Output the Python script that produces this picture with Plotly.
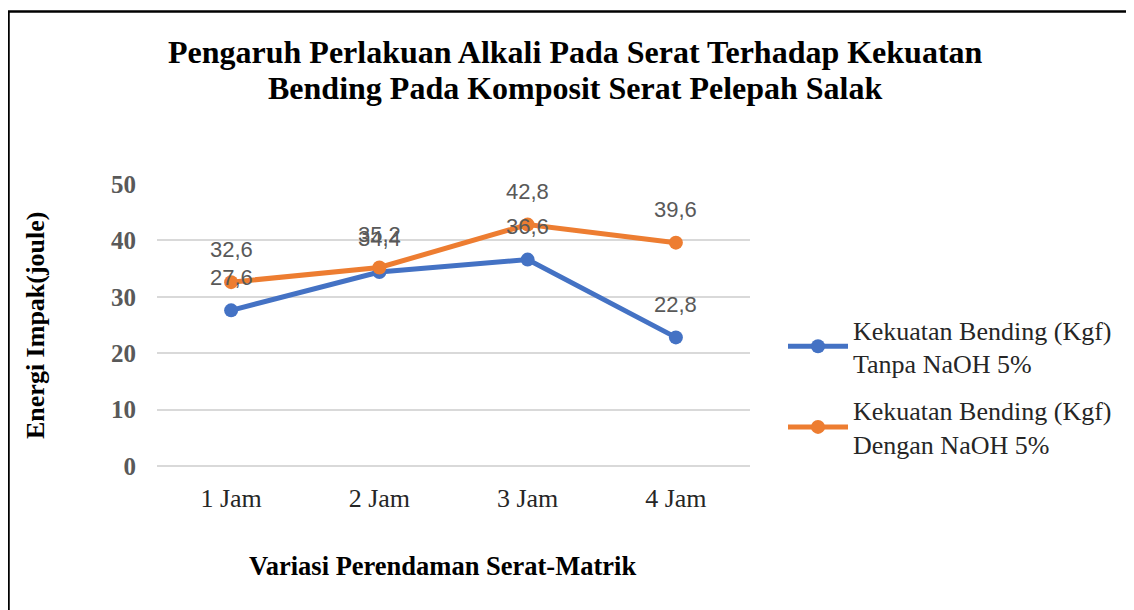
import plotly.graph_objects as go

# data
kategori = ["1 Jam", "2 Jam", "3 Jam", "4 Jam"]
tanpa_naoh = [27.6, 34.4, 36.6, 22.8]
dengan_naoh = [32.6, 35.2, 42.8, 39.6]
nama_tanpa = "Kekuatan Bending (Kgf)<br>Tanpa NaOH 5%"
nama_dengan = "Kekuatan Bending (Kgf)<br>Dengan NaOH 5%"
judul = ["Pengaruh Perlakuan Alkali Pada Serat Terhadap Kekuatan",
         "Bending Pada Komposit Serat Pelepah Salak"]
y_ticks = [0, 10, 20, 30, 40, 50]

BLUE = "#4472C4"
ORANGE = "#ED7D31"
SERIF = "Liberation Serif"

# the page puts the figure 8px in from the top-left corner
OFF = 8
W, H = 1134, 610
L = 157 - OFF
T = 184 - OFF
B = H - (466 - OFF)
R = W - (750 - OFF)
pw, ph = W - L - R, H - T - B


def px_x(x):  # page pixel -> paper x
    return (x - OFF - L) / pw


def px_y(y):  # page pixel -> paper y
    return (H - B - (y - OFF)) / ph


def fmt(v):
    return f"{v:.1f}".replace(".", ",")


fig = go.Figure()
for vals, nama, warna, grp in [(tanpa_naoh, nama_tanpa, BLUE, "a"),
                               (dengan_naoh, nama_dengan, ORANGE, "b")]:
    fig.add_trace(go.Scatter(
        x=kategori, y=vals, name=nama, mode="lines+markers", legendgroup=grp,
        line=dict(color=warna, width=5),
        marker=dict(color=warna, size=14),
    ))

# data labels above each point
annots = []
for vals in [tanpa_naoh, dengan_naoh]:
    for k, v in zip(kategori, vals):
        annots.append(dict(
            x=k, y=v, text=fmt(v), showarrow=False, yshift=33,
            xanchor="center", yanchor="middle",
            font=dict(family="Liberation Sans", size=22, color="#595959"),
        ))

# title, one annotation per line
for baris, ypos in zip(judul, [52, 88]):
    annots.append(dict(
        text=f"<b>{baris}</b>", xref="paper", yref="paper",
        x=px_x(575), y=px_y(ypos), showarrow=False,
        xanchor="center", yanchor="middle",
        font=dict(family=SERIF, size=32, color="black"),
    ))

# axis titles
annots.append(dict(
    text="<b>Variasi Perendaman Serat-Matrik</b>", xref="paper", yref="paper",
    x=px_x(442), y=px_y(566), showarrow=False,
    xanchor="center", yanchor="middle",
    font=dict(family=SERIF, size=26.5, color="black"),
))
annots.append(dict(
    text="<b>Energi Impak(joule)</b>", xref="paper", yref="paper",
    x=px_x(35), y=px_y(325), showarrow=False, textangle=-90,
    xanchor="center", yanchor="middle",
    font=dict(family=SERIF, size=26, color="black"),
))

fig.update_layout(
    width=W, height=H,
    margin=dict(l=L, r=R, t=T, b=B),
    paper_bgcolor="white", plot_bgcolor="white",
    xaxis=dict(
        type="category", range=[-0.5, 3.5], showgrid=False, zeroline=False,
        showline=False, ticks="", ticklabelstandoff=14,
        tickfont=dict(family=SERIF, size=26, color="#262626"),
    ),
    yaxis=dict(
        range=[0, 50], tickvals=y_ticks, showgrid=True, gridcolor="#D9D9D9",
        gridwidth=2, zeroline=True, zerolinecolor="#D9D9D9", zerolinewidth=2,
        showline=False, ticks="", ticklabelstandoff=20,
        tickfont=dict(family=SERIF, size=25, color="#595959", weight="bold"),
    ),
    legend=dict(
        x=px_x(783), xanchor="left", y=px_y(306), yanchor="top",
        font=dict(family=SERIF, size=26, color="#262626"),
        traceorder="grouped", tracegroupgap=10, itemwidth=60,
        bgcolor="rgba(0,0,0,0)",
    ),
    annotations=annots,
    shapes=[dict(
        type="rect", xref="paper", yref="paper",
        x0=px_x(8.5), x1=px_x(W + 30),
        y0=px_y(H + 30), y1=px_y(11.5),
        line=dict(color="black", width=2.5), fillcolor="rgba(0,0,0,0)",
        layer="above",
    )],
    showlegend=True,
)

fig.write_html("out.html")
